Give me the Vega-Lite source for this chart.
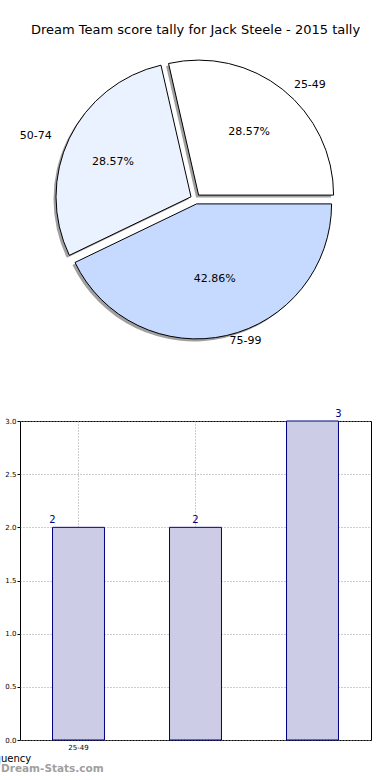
{
  "$schema": "https://vega.github.io/schema/vega-lite/v6.json",
  "autosize": {"type": "pad"},
  "padding": {"left": -22, "top": 23, "right": 0, "bottom": 0},
  "config": {"font": "DejaVu Sans"},
  "datasets": {
    "tally": [
      {"range": "25-49", "count": 2, "order": 1, "pct": "28.57%"},
      {"range": "75-99", "count": 3, "order": 2, "pct": "42.86%"},
      {"range": "50-74", "count": 2, "order": 3, "pct": "28.57%"}
    ]
  },
  "title": {"text": "Dream-Stats.com", "orient": "bottom", "anchor": "start", "frame": "group", "fontSize": 10.5, "fontWeight": "bold", "color": "#a0a0a0", "dx": -19, "offset": 0},
  "bounds": "flush",
  "spacing": 74,
  "vconcat": [
    {
      "width": 351,
      "height": 296,
      "view": {"stroke": null},
      "title": {"text": "Dream Team score tally for Jack Steele - 2015 tally", "fontSize": 13, "fontWeight": "normal", "anchor": "middle", "offset": 14.5, "color": "#000000"},
      "data": {"name": "tally"},
      "transform": [{"stack": "count", "groupby": [], "sort": [{"field": "order", "order": "ascending"}], "as": ["t0", "t1"]}],
      "encoding": {
        "theta": {"field": "t0", "type": "quantitative", "scale": {"domain": [0, 7], "range": [-0.2244, 6.0588]}},
        "theta2": {"field": "t1"},
        "color": {"field": "range", "type": "nominal", "scale": {"domain": ["25-49", "50-74", "75-99"], "range": ["#ffffff", "#ebf2ff", "#c6d9ff"]}, "legend": null}
      },
      "layer": [
        {"transform": [{"filter": "datum.range === '25-49'"}], "mark": {"type": "arc", "radius": 135, "xOffset": 0.6, "yOffset": -1.4, "fill": "#a0a0a0", "stroke": null}},
        {"transform": [{"filter": "datum.range === '50-74'"}], "mark": {"type": "arc", "radius": 135, "xOffset": -7, "yOffset": 0.3, "fill": "#a0a0a0", "stroke": null}},
        {"transform": [{"filter": "datum.range === '75-99'"}], "mark": {"type": "arc", "radius": 135, "xOffset": -1.4, "yOffset": 7.4, "fill": "#a0a0a0", "stroke": null}},
        {"transform": [{"filter": "datum.range === '25-49'"}], "mark": {"type": "arc", "radius": 135, "xOffset": 3.1, "yOffset": -3.9, "stroke": "#000000", "strokeWidth": 1}},
        {"transform": [{"filter": "datum.range === '50-74'"}], "mark": {"type": "arc", "radius": 135, "xOffset": -4.5, "yOffset": -2.2, "stroke": "#000000", "strokeWidth": 1}},
        {"transform": [{"filter": "datum.range === '75-99'"}], "mark": {"type": "arc", "radius": 135, "xOffset": 1.1, "yOffset": 4.9, "stroke": "#000000", "strokeWidth": 1}},
        {"transform": [{"filter": "datum.range === '25-49'"}], "mark": {"type": "text", "radius": 81, "thetaOffset": 0.8976, "xOffset": 3.1, "yOffset": -3.9, "fontSize": 11}, "encoding": {"theta2": null, "text": {"field": "pct"}, "color": {"value": "#000000"}}},
        {"transform": [{"filter": "datum.range === '50-74'"}], "mark": {"type": "text", "radius": 81, "thetaOffset": 0.8976, "xOffset": -4.5, "yOffset": -2.2, "dx": -5, "fontSize": 11}, "encoding": {"theta2": null, "text": {"field": "pct"}, "color": {"value": "#000000"}}},
        {"transform": [{"filter": "datum.range === '75-99'"}], "mark": {"type": "text", "radius": 81, "thetaOffset": 1.3464, "xOffset": 1.1, "yOffset": 4.9, "dy": -4, "fontSize": 11}, "encoding": {"theta2": null, "text": {"field": "pct"}, "color": {"value": "#000000"}}},
        {"transform": [{"filter": "datum.range === '25-49'"}], "mark": {"type": "text", "radius": 148, "thetaOffset": 0.8976, "xOffset": 3.1, "yOffset": -3.9, "dx": 3, "dy": 6, "fontSize": 11, "align": "left"}, "encoding": {"theta2": null, "text": {"field": "range"}, "color": {"value": "#000000"}}},
        {"transform": [{"filter": "datum.range === '50-74'"}], "mark": {"type": "text", "radius": 148, "thetaOffset": 0.8976, "xOffset": -4.5, "yOffset": -2.2, "dx": -6, "dy": 3, "fontSize": 11, "align": "right"}, "encoding": {"theta2": null, "text": {"field": "range"}, "color": {"value": "#000000"}}},
        {"transform": [{"filter": "datum.range === '75-99'"}], "mark": {"type": "text", "radius": 148, "thetaOffset": 1.3464, "xOffset": 1.1, "yOffset": 4.9, "dy": -7, "fontSize": 11, "align": "left"}, "encoding": {"theta2": null, "text": {"field": "range"}, "color": {"value": "#000000"}}}
      ]
    },
    {
      "width": 351,
      "height": 319,
      "view": {"stroke": "#000000", "strokeWidth": 1},
      "data": {"name": "tally"},
      "encoding": {
        "x": {
          "field": "range", "type": "nominal",
          "scale": {"domain": ["25-49", "50-74", "75-99"], "paddingInner": 0.556, "paddingOuter": 0.278},
          "axis": {
            "title": "Frequency", "titleX": -41, "titleY": 18, "titleAlign": "left", "titleBaseline": "middle", "titleFontSize": 10, "titleFontWeight": "normal", "titleColor": "#000000",
            "labelExpr": "datum.value === '25-49' ? datum.label : ''", "labelAngle": 0, "labelFontSize": 7, "labelColor": "#000000", "labelPadding": 3,
            "ticks": false, "domain": false, "grid": true, "gridDash": [1, 2], "gridColor": "#999999", "bandPosition": 0.5
          }
        },
        "y": {
          "field": "count", "type": "quantitative",
          "scale": {"domain": [0, 3], "nice": false},
          "axis": {
            "title": null, "values": [0, 0.5, 1, 1.5, 2, 2.5, 3], "format": ".1f", "labelFontSize": 7, "labelColor": "#000000", "labelPadding": 1,
            "tickSize": 3, "tickColor": "#000000", "domain": false, "grid": true, "gridDash": [1, 2], "gridColor": "#999999"
          }
        }
      },
      "layer": [
        {"mark": {"type": "bar", "fill": "#ccccE6", "stroke": "#000080", "strokeWidth": 1}},
        {"transform": [{"filter": "datum.range === '25-49'"}], "mark": {"type": "text", "baseline": "alphabetic", "dy": -4, "fontSize": 10, "color": "#000080"}, "encoding": {"x": {"field": "range", "type": "nominal", "bandPosition": 0}, "text": {"field": "count"}}},
        {"transform": [{"filter": "datum.range === '50-74'"}], "mark": {"type": "text", "baseline": "alphabetic", "dy": -4, "fontSize": 10, "color": "#000080"}, "encoding": {"x": {"field": "range", "type": "nominal", "bandPosition": 0.5}, "text": {"field": "count"}}},
        {"transform": [{"filter": "datum.range === '75-99'"}], "mark": {"type": "text", "baseline": "alphabetic", "dy": -4, "fontSize": 10, "color": "#000080"}, "encoding": {"x": {"field": "range", "type": "nominal", "bandPosition": 1}, "text": {"field": "count"}}}
      ]
    }
  ]
}
